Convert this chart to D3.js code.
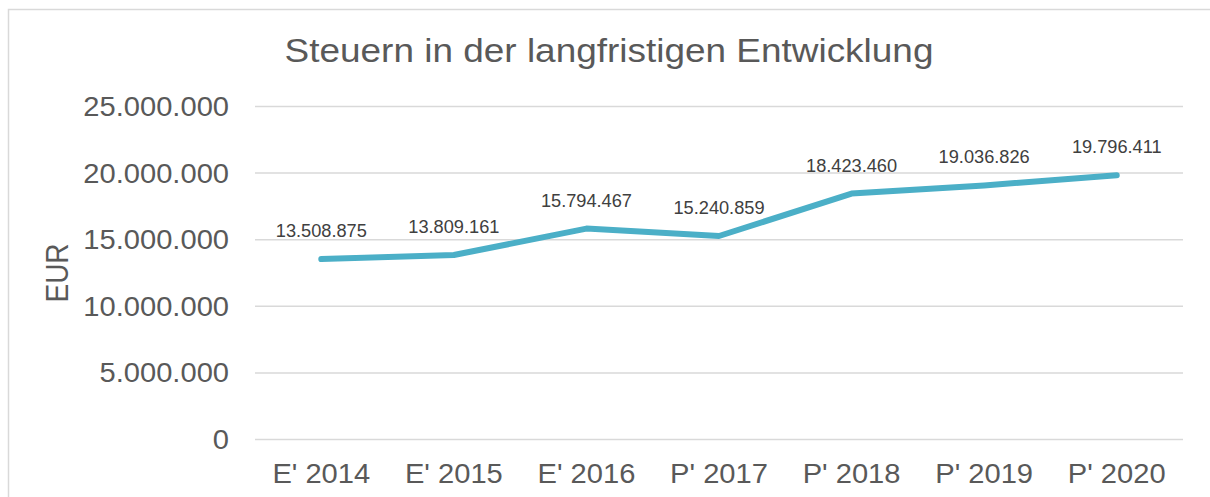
<!DOCTYPE html>
<html>
<head>
<meta charset="utf-8">
<script src="https://cdn.jsdelivr.net/npm/d3@7"></script>
<style>
  body { margin: 0; background: #fff; }
  text { font-family: "Liberation Sans", Arial, sans-serif; }
</style>
</head>
<body>
<div id="chart"></div>
<script>
const categories = ["E' 2014", "E' 2015", "E' 2016", "P' 2017", "P' 2018", "P' 2019", "P' 2020"];
const taxValues = [13508875, 13809161, 15794467, 15240859, 18423460, 19036826, 19796411];
const yTicks = [0, 5000000, 10000000, 15000000, 20000000, 25000000];
const chartTitle = "Steuern in der langfristigen Entwicklung";
const yAxisTitle = "EUR";

const W = 1210, H = 497;
const margin = { top: 106, right: 27, bottom: 58, left: 255 };
const width = W - margin.left - margin.right;
const height = H - margin.top - margin.bottom;

const de = d3.formatLocale({ decimal: ",", thousands: ".", grouping: [3], currency: ["", " €"] });
const fmt = de.format(",d");

const svg = d3.select("#chart")
  .append("svg")
  .attr("width", W)
  .attr("height", H);

// outer chart border (cut off right and bottom)
svg.append("path")
  .attr("d", `M8.5,${H + 5}V9.5H${W + 5}`)
  .attr("fill", "none")
  .attr("stroke", "#d9d9d9")
  .attr("stroke-width", 1.5);

const g = svg.append("g")
  .attr("transform", `translate(${margin.left},${margin.top})`);

const x = d3.scalePoint()
  .domain(categories)
  .range([0, width])
  .padding(0.5);

const y = d3.scaleLinear()
  .domain([0, 25000000])
  .range([height, 0]);

// gridlines
g.append("g")
  .call(d3.axisLeft(y).tickValues(yTicks).tickSize(-width).tickFormat(""))
  .call(s => s.select(".domain").remove())
  .call(s => s.selectAll(".tick line").attr("stroke", "#d9d9d9").attr("stroke-width", 1.5));

// stretched text helper
function label(parent, tx, ty, str, size, sx, anchor, fill) {
  return parent.append("text")
    .attr("transform", `translate(${tx},${ty}) scale(${sx},1)`)
    .attr("text-anchor", anchor)
    .attr("font-size", size)
    .attr("fill", fill)
    .text(str);
}

// y tick labels
yTicks.forEach(t => label(g, -26, y(t) + 10, fmt(t), 28, 1.04, "end", "#595959"));

// x tick labels
categories.forEach(c => label(g, x(c), height + 44, c, 28, 1.04, "middle", "#595959"));

// line
const line = d3.line()
  .x((d, i) => x(categories[i]))
  .y(d => y(d));

g.append("path")
  .datum(taxValues)
  .attr("d", line)
  .attr("fill", "none")
  .attr("stroke", "#4bafc7")
  .attr("stroke-width", 6)
  .attr("stroke-linecap", "round")
  .attr("stroke-linejoin", "round");

// data labels
taxValues.forEach((v, i) => label(g, x(categories[i]), y(v) - 22, fmt(v), 17.5, 1.04, "middle", "#404040"));

// title
label(svg, 609, 62, chartTitle, 33, 1.12, "middle", "#595959");

// y axis title
svg.append("text")
  .attr("transform", `translate(68,273) scale(1.15,1) rotate(-90)`)
  .attr("text-anchor", "middle")
  .attr("font-size", 28)
  .attr("fill", "#595959")
  .text(yAxisTitle);
</script>
</body>
</html>
